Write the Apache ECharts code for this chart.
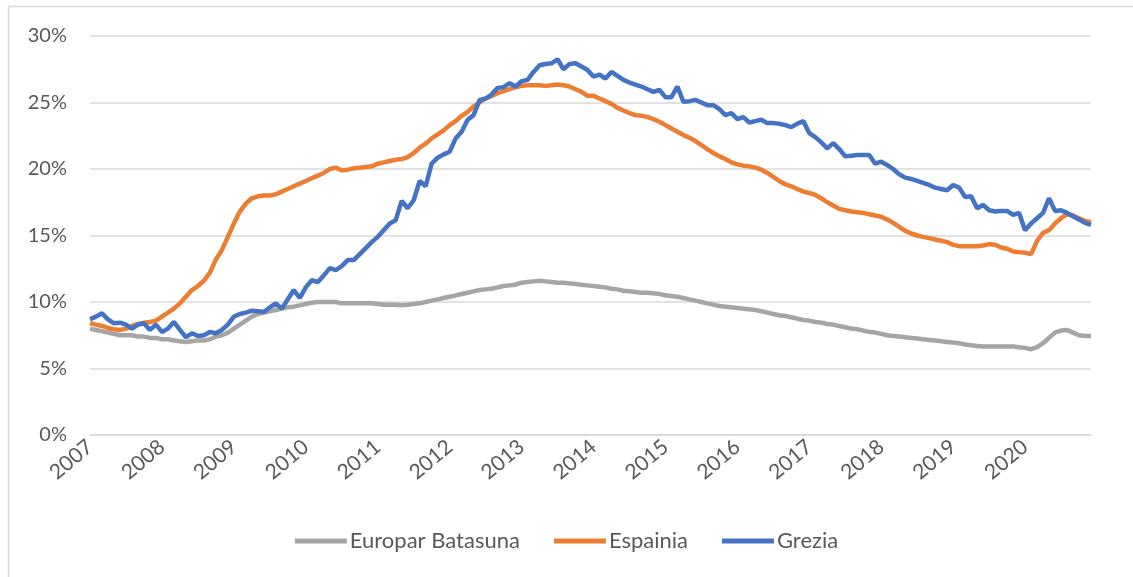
<!DOCTYPE html>
<html>
<head>
<meta charset="utf-8">
<script src="https://cdn.jsdelivr.net/npm/echarts@6/dist/echarts.min.js"></script>
<style>
  html, body { margin: 0; padding: 0; background: #fff; }
  #chart { width: 1133px; height: 577px; }
</style>
</head>
<body>
<div id="chart"></div>
<script>
// monthly data, Jan 2007 .. Dec 2020 (%)
var years = ['2007', '2008', '2009', '2010', '2011', '2012', '2013', '2014',
             '2015', '2016', '2017', '2018', '2019', '2020'];

var europar = [
    8.0, 7.9, 7.8, 7.7, 7.6, 7.5, 7.5, 7.5, 7.4, 7.4, 7.3, 7.3,
    7.2, 7.2, 7.1, 7.05, 7.0, 7.05, 7.1, 7.1, 7.2, 7.4, 7.5, 7.7,
    8.0, 8.3, 8.6, 8.9, 9.1, 9.2, 9.3, 9.4, 9.5, 9.6, 9.65, 9.75,
    9.85, 9.95, 10.0, 10.0, 10.0, 10.0, 9.9, 9.9, 9.9, 9.9, 9.9, 9.9,
    9.85, 9.8, 9.8, 9.8, 9.75, 9.8, 9.85, 9.9, 10.0, 10.1, 10.2, 10.3,
    10.4, 10.5, 10.6, 10.7, 10.8, 10.9, 10.95, 11.0, 11.1, 11.2, 11.25, 11.3,
    11.45, 11.5, 11.55, 11.6, 11.55, 11.5, 11.45, 11.45, 11.4, 11.35, 11.3, 11.25,
    11.2, 11.15, 11.1, 11.0, 10.95, 10.85, 10.8, 10.75, 10.7, 10.7, 10.65, 10.6,
    10.5, 10.45, 10.4, 10.3, 10.2, 10.1, 10.0, 9.9, 9.8, 9.7, 9.65, 9.6,
    9.55, 9.5, 9.45, 9.4, 9.3, 9.2, 9.1, 9.0, 8.95, 8.85, 8.75, 8.65,
    8.6, 8.5, 8.45, 8.35, 8.3, 8.2, 8.1, 8.0, 7.95, 7.85, 7.75, 7.7,
    7.6, 7.5, 7.45, 7.4, 7.35, 7.3, 7.25, 7.2, 7.15, 7.1, 7.05, 7.0,
    6.95, 6.9, 6.8, 6.75, 6.7, 6.65, 6.65, 6.65, 6.65, 6.65, 6.65, 6.6,
    6.55, 6.45, 6.6, 6.9, 7.3, 7.7, 7.85, 7.9, 7.7, 7.5, 7.45, 7.45
];

var espainia = [
    8.4, 8.3, 8.2, 8.05, 7.95, 7.9, 8.0, 8.2, 8.35, 8.45, 8.5, 8.6,
    8.9, 9.2, 9.5, 9.9, 10.4, 10.9, 11.2, 11.6, 12.2, 13.2, 13.9, 14.9,
    15.9, 16.8, 17.4, 17.8, 17.95, 18.0, 18.0, 18.1, 18.3, 18.5, 18.7, 18.9,
    19.1, 19.3, 19.5, 19.7, 20.0, 20.1, 19.9, 19.95, 20.05, 20.1, 20.15, 20.2,
    20.4, 20.5, 20.6, 20.7, 20.75, 20.9, 21.2, 21.6, 21.9, 22.3, 22.6, 22.9,
    23.3, 23.6, 24.0, 24.3, 24.7, 25.0, 25.3, 25.5, 25.7, 25.85, 26.0, 26.15,
    26.25, 26.3, 26.3, 26.3, 26.25, 26.3, 26.35, 26.3, 26.2, 26.0, 25.8, 25.5,
    25.5, 25.3, 25.1, 24.9, 24.6, 24.4, 24.2, 24.05, 24.0, 23.9, 23.75, 23.55,
    23.3, 23.05, 22.8, 22.55, 22.35, 22.1, 21.8, 21.5, 21.2, 20.95, 20.75, 20.5,
    20.35, 20.25, 20.2, 20.1, 19.95, 19.7, 19.4, 19.1, 18.85, 18.7, 18.5, 18.3,
    18.2, 18.05, 17.8, 17.5, 17.25, 17.0, 16.9, 16.8, 16.75, 16.7, 16.6, 16.5,
    16.4, 16.2, 15.95, 15.65, 15.35, 15.15, 15.0, 14.9, 14.8, 14.7, 14.6, 14.5,
    14.3, 14.2, 14.2, 14.2, 14.2, 14.25, 14.35, 14.3, 14.1, 14.0, 13.8, 13.75,
    13.7, 13.6, 14.6, 15.2, 15.4, 15.9, 16.3, 16.6, 16.5, 16.3, 16.1, 16.0
];

var grezia = [
    8.7, 8.9, 9.15, 8.7, 8.4, 8.45, 8.3, 8.0, 8.3, 8.4, 7.9, 8.3,
    7.75, 8.0, 8.5, 7.9, 7.35, 7.65, 7.45, 7.5, 7.75, 7.65, 7.9, 8.3,
    8.9, 9.1, 9.2, 9.35, 9.3, 9.25, 9.6, 9.9, 9.5, 10.2, 10.9, 10.3,
    11.1, 11.65, 11.5, 12.0, 12.55, 12.4, 12.7, 13.15, 13.15, 13.6, 14.05, 14.5,
    14.9, 15.4, 15.9, 16.15, 17.6, 17.05, 17.65, 19.1, 18.7, 20.4, 20.85, 21.1,
    21.3, 22.3, 22.8, 23.7, 24.05, 25.2, 25.3, 25.6, 26.1, 26.15, 26.45, 26.2,
    26.6, 26.7, 27.3, 27.8, 27.9, 27.95, 28.25, 27.5, 27.9, 27.95, 27.7, 27.45,
    26.95, 27.1, 26.8, 27.3, 27.0, 26.7, 26.5, 26.35, 26.2, 26.0, 25.8, 25.95,
    25.4, 25.4, 26.2, 25.05, 25.1, 25.2, 25.0, 24.8, 24.8, 24.5, 24.05, 24.2,
    23.75, 23.9, 23.5, 23.6, 23.7, 23.45, 23.45, 23.4, 23.3, 23.15, 23.4, 23.6,
    22.7, 22.4, 22.0, 21.55, 21.95, 21.5, 20.95, 21.0, 21.05, 21.05, 21.05, 20.4,
    20.55, 20.3, 20.0, 19.6, 19.35, 19.25, 19.1, 18.95, 18.8, 18.6, 18.5, 18.4,
    18.8, 18.6, 17.9, 17.95, 17.05, 17.3, 16.9, 16.8, 16.85, 16.85, 16.55, 16.7,
    15.4, 15.9, 16.3, 16.7, 17.8, 16.85, 16.9, 16.7, 16.45, 16.2, 15.95, 15.8
];

var months = [];
years.forEach(function (y) {
    for (var m = 1; m <= 12; m++) {
        months.push(y + '-' + (m < 10 ? '0' + m : m));
    }
});

var fontFamily = 'Lato, "Open Sans", sans-serif';

var chart = echarts.init(document.getElementById('chart'), null, { renderer: 'canvas' });

option = {
    animation: false,
    backgroundColor: '#fff',
    color: ['#A5A5A5', '#ED7D31', '#4472C4'],
    graphic: [{
        type: 'rect',
        shape: { x: 8.5, y: 6.5, width: 1200, height: 700 },
        style: { fill: 'none', stroke: '#D9D9D9', lineWidth: 1.5 },
        silent: true
    }],
    grid: {
        left: 90,
        right: 42,
        top: 36,
        bottom: 142
    },
    legend: {
        bottom: 20,
        left: 'center',
        icon: 'rect',
        itemWidth: 52,
        itemHeight: 5,
        itemGap: 34,
        textStyle: {
            color: '#595959',
            fontSize: 22,
            fontFamily: fontFamily,
            padding: [0, 0, 0, -2]
        },
        data: ['Europar Batasuna', 'Espainia', 'Grezia']
    },
    xAxis: {
        type: 'category',
        boundaryGap: false,
        data: months,
        axisLine: { lineStyle: { color: '#D9D9D9', width: 1.5 } },
        axisTick: { show: false },
        axisLabel: {
            interval: 11,
            rotate: 40,
            margin: 9,
            color: '#595959',
            fontSize: 21,
            fontFamily: fontFamily,
            formatter: function (v) { return v.slice(0, 4); }
        }
    },
    yAxis: {
        type: 'value',
        min: 0,
        max: 30,
        interval: 5,
        axisLine: { show: false },
        axisTick: { show: false },
        splitLine: { lineStyle: { color: '#D9D9D9', width: 1.5 } },
        axisLabel: {
            margin: 23,
            color: '#595959',
            fontSize: 20,
            fontFamily: fontFamily,
            formatter: '{value}%'
        }
    },
    series: [
        {
            name: 'Europar Batasuna',
            type: 'line',
            symbol: 'none',
            lineStyle: { width: 4.5 },
            data: europar
        },
        {
            name: 'Espainia',
            type: 'line',
            symbol: 'none',
            lineStyle: { width: 4.5 },
            data: espainia
        },
        {
            name: 'Grezia',
            type: 'line',
            symbol: 'none',
            lineStyle: { width: 4.5 },
            data: grezia
        }
    ]
};

chart.setOption(option);
</script>
</body>
</html>
